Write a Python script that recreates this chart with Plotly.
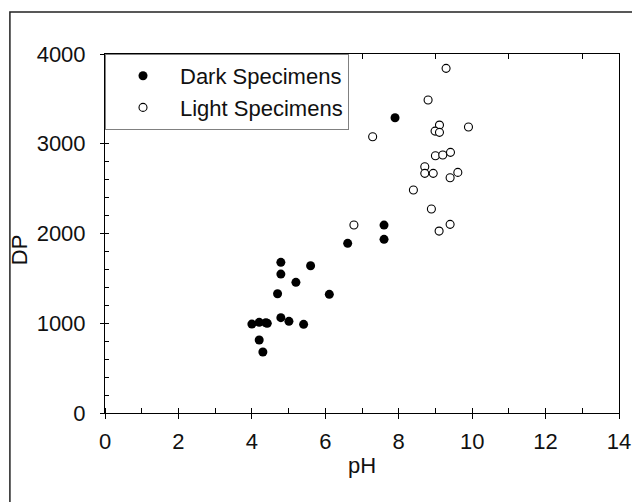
import plotly.graph_objects as go

# Dark specimens
dark_ph = [4.00, 4.20, 4.38, 4.42, 4.20, 4.30, 4.70, 4.79, 4.79, 4.79, 5.01, 5.20, 5.41, 5.60, 6.11, 6.61, 7.60, 7.60, 7.90]
dark_dp = [991, 1010, 1005, 999, 813, 680, 1329, 1679, 1548, 1062, 1021, 1456, 988, 1641, 1322, 1890, 2094, 1935, 3290]

# Light specimens
light_ph = [9.29, 8.80, 9.11, 8.99, 9.11, 9.90, 7.29, 9.00, 9.20, 9.41, 8.71, 8.71, 8.94, 9.61, 9.40, 8.40, 8.89, 9.40, 9.10, 6.78]
light_dp = [3840, 3487, 3208, 3141, 3127, 3186, 3078, 2866, 2874, 2904, 2744, 2670, 2670, 2681, 2621, 2484, 2273, 2102, 2027, 2094]

x_ticks = [0, 2, 4, 6, 8, 10, 12, 14]
x_top_ticks = [1, 3, 5, 7, 9, 11, 13]
y_ticks = [0, 1000, 2000, 3000, 4000]

FONT = "Liberation Sans, Arial, sans-serif"

fig = go.Figure()
fig.add_trace(go.Scatter(
    x=dark_ph, y=dark_dp, mode="markers", name="Dark Specimens",
    marker=dict(symbol="circle", size=9, color="black", line=dict(width=0)),
))
fig.add_trace(go.Scatter(
    x=light_ph, y=light_dp, mode="markers", name="Light Specimens",
    marker=dict(symbol="circle", size=8, color="white", line=dict(width=1.1, color="black")),
))
# invisible trace for top axis ticks
fig.add_trace(go.Scatter(x=[0, 14], y=[0, 0], xaxis="x2", mode="markers",
                         marker=dict(opacity=0), showlegend=False, hoverinfo="skip"))

fig.update_layout(
    width=632, height=502,
    margin=dict(l=105, r=13, t=54, b=89, autoexpand=False),
    paper_bgcolor="white", plot_bgcolor="white",
    font=dict(family=FONT, size=22, color="#111111"),
    showlegend=True,
    legend=dict(
        x=0, y=1, xanchor="left", yanchor="top",
        bgcolor="white", bordercolor="#808080", borderwidth=1,
        font=dict(family=FONT, size=22, color="#111111"),
        itemwidth=64, tracegroupgap=0,
    ),
    xaxis=dict(
        range=[0, 14], tickvals=x_ticks, ticks="outside", ticklen=5, tickcolor="black",
        showline=True, linecolor="black", linewidth=1, mirror=True,
        showgrid=False, zeroline=False, automargin=False,
        minor=dict(ticks="inside", dtick=1, ticklen=5, tickcolor="black", showgrid=False),
        title=dict(text="pH", font=dict(size=22), standoff=4),
        ticklabelstandoff=4,
    ),
    xaxis2=dict(
        range=[0, 14], overlaying="x", side="top", tickvals=x_top_ticks,
        ticks="inside", ticklen=5, tickcolor="black", showticklabels=False,
        showline=False, showgrid=False, zeroline=False, automargin=False,
    ),
    yaxis=dict(
        range=[0, 4000], tickvals=y_ticks, ticks="outside", ticklen=4, tickcolor="black",
        showline=True, linecolor="black", linewidth=1, mirror=True,
        showgrid=False, zeroline=False, automargin=False,
        minor=dict(ticks="inside", dtick=200, ticklen=4, tickcolor="black", showgrid=False),
        ticklabelstandoff=10,
    ),
    annotations=[dict(text="DP", textangle=-90, xref="paper", yref="paper",
                      x=-0.167, y=0.454, xanchor="center", yanchor="middle",
                      showarrow=False, font=dict(family=FONT, size=22, color="#111111"))],
    shapes=[dict(type="rect", xref="paper", yref="paper",
                 x0=-0.185, x1=1.05, y0=-0.35, y1=1.117,
                 line=dict(color="#222222", width=1.5), layer="below")],
)

fig.write_html(
    "out.html",
    config={"displayModeBar": False},
    post_script="document.body.style.margin='0';document.body.style.overflow='hidden';",
)
